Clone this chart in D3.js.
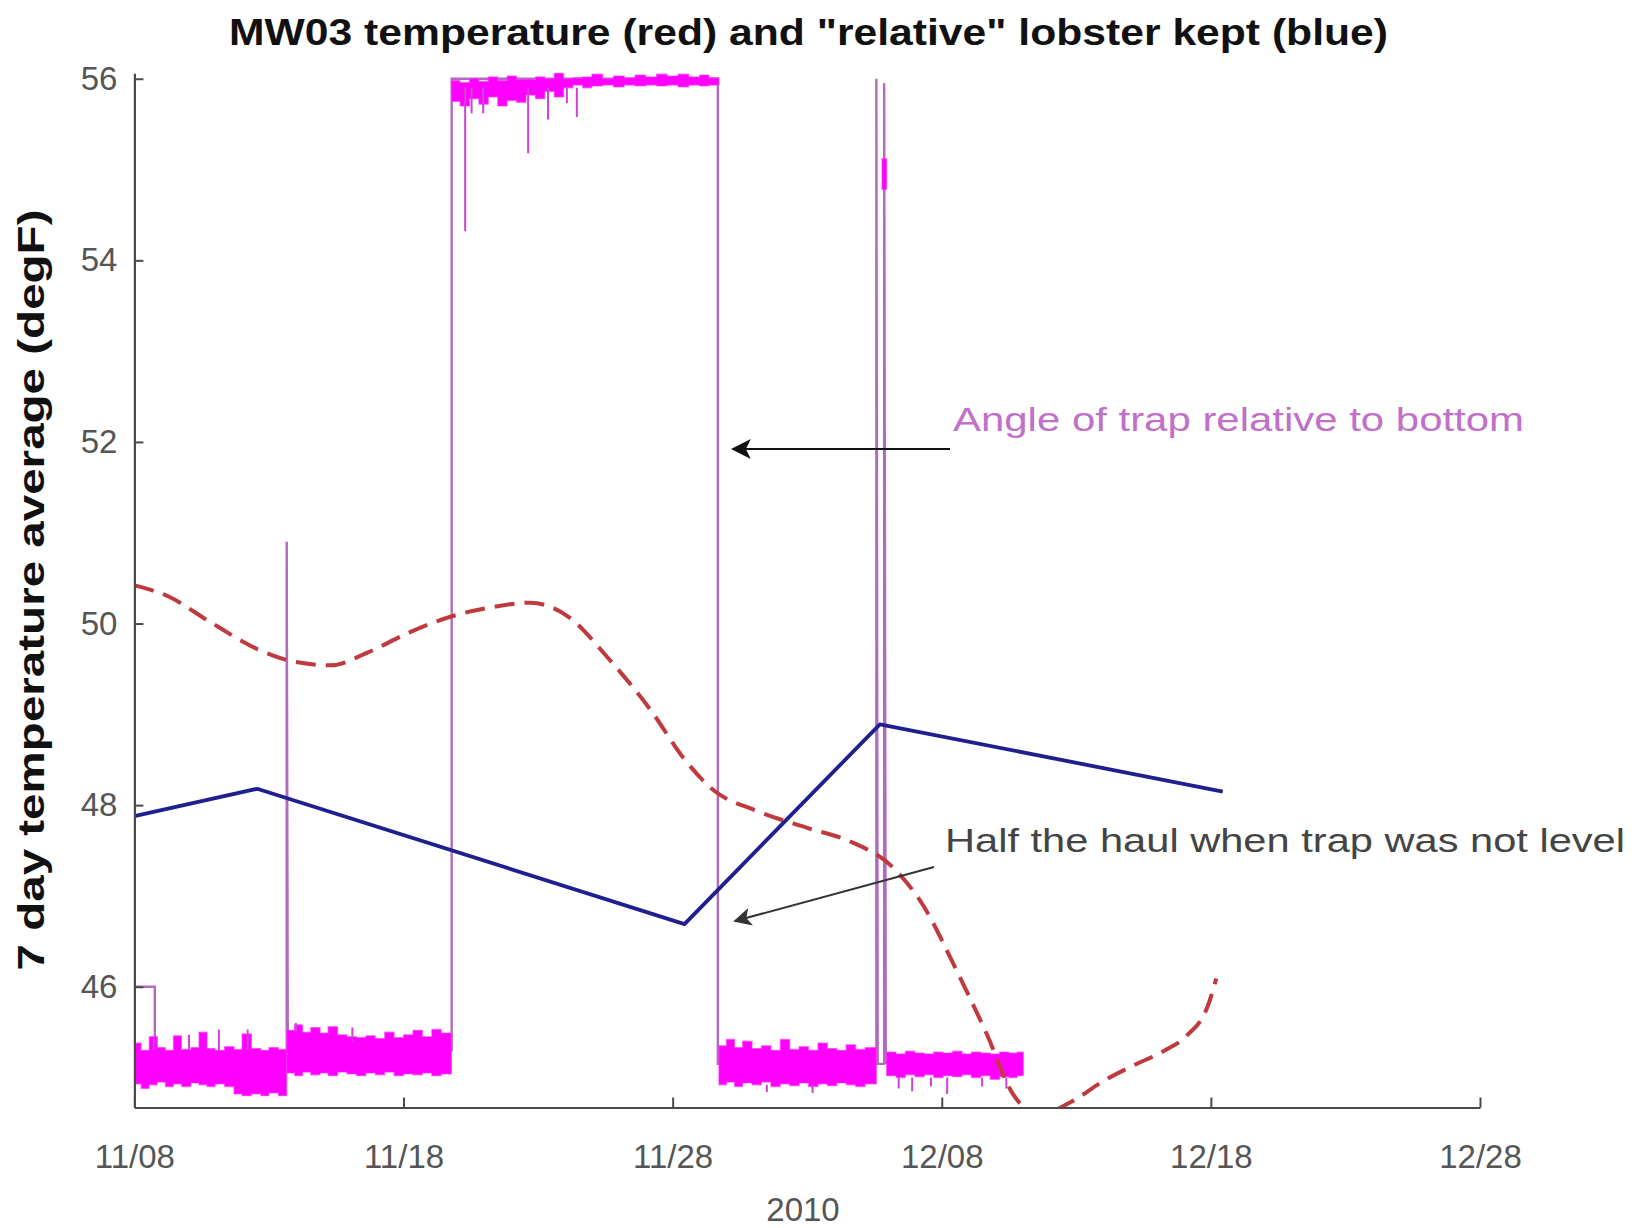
<!DOCTYPE html>
<html>
<head>
<meta charset="utf-8">
<script src="https://cdn.jsdelivr.net/npm/d3@7"></script>
<style>
  html, body { margin: 0; padding: 0; background: #fff; }
  svg { display: block; }
  text { font-family: "Liberation Sans", Arial, Helvetica, sans-serif; }
</style>
</head>
<body>
<svg id="chart" width="1646" height="1228"></svg>
<script>
// Time axis: days since 11/08/2010
const tickDays = [0, 10, 20, 30, 40, 50];
const tickLabels = ["11/08", "11/18", "11/28", "12/08", "12/18", "12/28"];
const yTicks = [46, 48, 50, 52, 54, 56];

// 7 day temperature average (red, dashed)
const tempDays   = [0, 1.25, 2.8, 4.56, 5.93, 7.3, 8.66, 10.2, 11.8, 13.3, 14.7, 16.1, 17.6, 19.2, 20.4, 21.5, 23.1, 25.0, 26.6, 28.2, 29.3, 30.5, 31.7, 32.6, 33.3, 33.8, 34.8, 36.0, 37.1, 38.3, 39.1, 39.9, 40.2];
const tempValues = [50.42, 50.30, 50.02, 49.72, 49.58, 49.54, 49.68, 49.90, 50.08, 50.18, 50.23, 50.08, 49.62, 49.04, 48.52, 48.17, 47.94, 47.75, 47.60, 47.31, 46.90, 46.21, 45.46, 44.84, 44.63, 44.61, 44.73, 44.96, 45.13, 45.30, 45.46, 45.80, 46.09];

// "relative" lobster kept per haul (blue)
const keptDays   = [0, 4.56, 20.44, 27.7, 40.44];
const keptValues = [47.88, 48.18, 46.69, 48.89, 48.15];

// Trap angle: level changes between hauls (thin trace)
const angleTraceDays   = [0, 0.76, 0.76, 5.66, 5.66, 5.70, 11.79, 11.79, 21.68, 21.68, 27.57, 27.57, 27.62, 27.86, 27.86, 27.92];
const angleTraceValues = [46, 46, 45.15, 45.15, 50.9, 45.3, 45.3, 56.0, 56.0, 45.15, 45.15, 56.0, 45.15, 45.15, 55.95, 45.15];

// Trap angle: dense sensor readings, [day, low, high]
const angleBand1 = [[0.00,44.93,45.38],[0.25,44.88,45.30],[0.55,44.92,45.45],[0.85,44.95,45.33],[1.15,44.90,45.30],[1.45,44.93,45.46],[1.75,44.90,45.31],[2.10,44.94,45.33],[2.40,44.92,45.50],[2.70,44.90,45.32],[3.00,44.93,45.30],[3.35,44.90,45.34],[3.70,44.82,45.31],[4.00,44.80,45.48],[4.35,44.82,45.32],[4.70,44.80,45.30],[5.00,44.83,45.33],[5.35,44.80,45.31],[5.66,44.80,45.31]];
const angleBand2 = [[5.66,45.05,45.52],[5.95,45.02,45.58],[6.25,45.06,45.50],[6.55,45.03,45.55],[6.90,45.05,45.49],[7.20,45.02,45.56],[7.55,45.06,45.47],[7.90,45.04,45.45],[8.25,45.02,45.44],[8.60,45.05,45.46],[8.95,45.03,45.43],[9.30,45.06,45.50],[9.65,45.02,45.44],[10.00,45.04,45.47],[10.35,45.03,45.52],[10.70,45.05,45.45],[11.05,45.02,45.53],[11.40,45.04,45.49],[11.78,45.04,45.49]];
const angleHigh  = [[11.78,55.75,55.98],[12.10,55.70,55.96],[12.45,55.78,56.00],[12.80,55.72,55.97],[13.15,55.80,56.02],[13.50,55.70,55.98],[13.85,55.76,56.03],[14.20,55.74,55.99],[14.55,55.82,55.99],[14.90,55.78,56.02],[15.25,55.86,56.00],[15.60,55.80,56.06],[15.95,55.90,56.00],[16.30,55.93,56.01],[16.65,55.90,56.02],[17.00,55.92,56.05],[17.40,55.93,56.00],[17.80,55.91,56.03],[18.20,55.93,56.01],[18.60,55.92,56.04],[19.00,55.93,56.02],[19.40,55.92,56.05],[19.80,55.93,56.03],[20.20,55.91,56.05],[20.60,55.93,56.02],[21.00,55.92,56.04],[21.35,55.93,56.01],[21.72,55.93,56.01]];
const angleBand3 = [[21.72,44.92,45.35],[22.00,44.95,45.42],[22.30,44.90,45.33],[22.60,44.94,45.40],[22.95,44.92,45.32],[23.30,44.95,45.35],[23.65,44.90,45.30],[24.00,44.93,45.42],[24.35,44.91,45.31],[24.70,44.94,45.34],[25.05,44.90,45.30],[25.40,44.93,45.38],[25.75,44.91,45.32],[26.10,44.94,45.30],[26.45,44.92,45.36],[26.80,44.90,45.31],[27.15,44.93,45.33],[27.57,44.93,45.33]];
const angleBlob  = [[27.78,54.78,55.12],[27.95,54.78,55.12]];
const angleBand4 = [[27.95,45.02,45.28],[28.30,45.00,45.26],[28.65,45.03,45.29],[29.00,45.01,45.27],[29.35,45.03,45.26],[29.70,45.00,45.28],[30.05,45.02,45.27],[30.40,45.01,45.29],[30.75,45.03,45.26],[31.10,45.00,45.28],[31.45,45.02,45.27],[31.80,44.98,45.26],[32.15,45.01,45.28],[32.50,45.00,45.27],[32.80,45.02,45.28],[33.03,45.02,45.28]];

// Isolated readings outside the dense bands: [day, from, to]
const angleSpikes = [
  [12.29,55.9,54.32],[12.53,55.9,55.62],[12.96,55.9,55.62],[14.63,55.9,55.18],
  [15.37,55.9,55.55],[16.07,55.9,55.73],[16.44,55.9,55.58],
  [0.72,45.3,45.43],[2.03,45.3,45.47],[3.14,45.3,45.53],[4.21,45.3,45.53],
  [6.0,45.5,45.6],[8.1,45.4,45.55],
  [23.5,44.92,44.84],[25.2,44.92,44.83],
  [28.4,45.0,44.88],[28.9,45.0,44.85],[29.6,45.0,44.9],[30.2,45.0,44.82],[31.5,45.0,44.9],[32.4,45.0,44.88]
];

const svg = d3.select("#chart");

const x = d3.scaleLinear().domain([0, 50]).range([134.4, 1480]);
const y = d3.scaleLinear().domain([44.67, 56.06]).range([1107.5, 73.3]);

// clip data to the plot box
const defs = svg.append("defs");
defs.append("clipPath").attr("id", "plotClip")
  .append("rect")
  .attr("x", x(0)).attr("y", 60)
  .attr("width", x(50) - x(0)).attr("height", y(44.67) - 60);

const plot = svg.append("g").attr("clip-path", "url(#plotClip)");

const magenta = "#ff00ff";

// level changes (under the dense readings)
const trace = angleTraceDays.map((d, i) => [d, angleTraceValues[i]]);
plot.append("path").datum(trace)
  .attr("d", d3.line().x(d => x(d[0])).y(d => y(d[1])))
  .attr("fill", "none")
  .attr("stroke", "#b06ac0")
  .attr("stroke-width", 2.4);

// dense angle readings
const bandArea = d3.area()
  .x(d => x(d[0])).y0(d => y(d[1])).y1(d => y(d[2]))
  .curve(d3.curveStepAfter);
[angleBand1, angleBand2, angleHigh, angleBand3, angleBlob, angleBand4].forEach(b => {
  plot.append("path").datum(b)
    .attr("d", bandArea)
    .attr("fill", magenta)
    .attr("stroke", "#ff33ff")
    .attr("stroke-width", 1.2)
    .attr("stroke-opacity", 0.6);
});

// isolated readings
plot.append("g").selectAll("line").data(angleSpikes).join("line")
  .attr("x1", d => x(d[0])).attr("x2", d => x(d[0]))
  .attr("y1", d => y(d[1])).attr("y2", d => y(d[2]))
  .attr("stroke", "#cc44d6").attr("stroke-width", 2);

// temperature
const temp = tempDays.map((d, i) => [d, tempValues[i]]);
plot.append("path").datum(temp)
  .attr("d", d3.line().x(d => x(d[0])).y(d => y(d[1])).curve(d3.curveMonotoneX))
  .attr("fill", "none")
  .attr("stroke", "#c0393e")
  .attr("stroke-width", 4)
  .attr("stroke-dasharray", "20,10");

// lobster kept
const kept = keptDays.map((d, i) => [d, keptValues[i]]);
plot.append("path").datum(kept)
  .attr("d", d3.line().x(d => x(d[0])).y(d => y(d[1])))
  .attr("fill", "none")
  .attr("stroke", "#1f1f8f")
  .attr("stroke-width", 3.8)
  .attr("stroke-linejoin", "round");

// axes
const axisColor = "#4a4a4a";
const xAxis = svg.append("g")
  .attr("transform", `translate(0,${y(44.67)})`)
  .call(d3.axisBottom(x).tickValues(tickDays).tickFormat((d, i) => tickLabels[i])
    .tickSizeInner(-10).tickSizeOuter(0).tickPadding(37));
const yAxis = svg.append("g")
  .attr("transform", `translate(${x(0)},0)`)
  .call(d3.axisLeft(y).tickValues(yTicks).tickFormat(d3.format("d"))
    .tickSizeInner(-9).tickSizeOuter(0).tickPadding(17));

[xAxis, yAxis].forEach(g => {
  g.select(".domain").attr("stroke", axisColor).attr("stroke-width", 2.2);
  g.selectAll(".tick line").attr("stroke", axisColor).attr("stroke-width", 2);
  g.selectAll(".tick text")
    .attr("fill", "#555")
    .style("font-size", "33px")
    .style("font-family", "'Liberation Sans', Arial, sans-serif");
});

// titles
svg.append("text")
  .attr("x", 808.5).attr("y", 45)
  .attr("text-anchor", "middle")
  .attr("textLength", 1159).attr("lengthAdjust", "spacingAndGlyphs")
  .style("font-size", "37px").style("font-weight", "bold")
  .attr("fill", "#111")
  .text('MW03 temperature (red) and "relative" lobster kept (blue)');

svg.append("text")
  .attr("transform", "translate(44,590) rotate(-90)")
  .attr("text-anchor", "middle")
  .attr("textLength", 761).attr("lengthAdjust", "spacingAndGlyphs")
  .style("font-size", "37px").style("font-weight", "bold")
  .attr("fill", "#111")
  .text("7 day temperature average (degF)");

svg.append("text")
  .attr("x", 803).attr("y", 1221)
  .attr("text-anchor", "middle")
  .style("font-size", "33px")
  .attr("fill", "#555")
  .text("2010");

// annotations
[["arrowDark", "#111"], ["arrowGray", "#333"]].forEach(([id, c]) => {
  defs.append("marker").attr("id", id)
    .attr("viewBox", "0 0 10 10").attr("refX", 9).attr("refY", 5)
    .attr("markerWidth", 10).attr("markerHeight", 9)
    .attr("markerUnits", "strokeWidth")
    .attr("orient", "auto")
    .append("path").attr("d", "M0,0 L10,5 L0,10 L2.5,5 z").attr("fill", c);
});

svg.append("text")
  .attr("x", 953).attr("y", 431)
  .attr("textLength", 571).attr("lengthAdjust", "spacingAndGlyphs")
  .style("font-size", "34px")
  .attr("fill", "#c070c8")
  .text("Angle of trap relative to bottom");
svg.append("line")
  .attr("x1", 950).attr("y1", 449).attr("x2", 733).attr("y2", 449)
  .attr("stroke", "#111").attr("stroke-width", 2.2)
  .attr("marker-end", "url(#arrowDark)");

svg.append("text")
  .attr("x", 945).attr("y", 852)
  .attr("textLength", 680).attr("lengthAdjust", "spacingAndGlyphs")
  .style("font-size", "34px")
  .attr("fill", "#444")
  .text("Half the haul when trap was not level");
svg.append("line")
  .attr("x1", 934).attr("y1", 867).attr("x2", 735).attr("y2", 921)
  .attr("stroke", "#333").attr("stroke-width", 2)
  .attr("marker-end", "url(#arrowGray)");
</script>
</body>
</html>
